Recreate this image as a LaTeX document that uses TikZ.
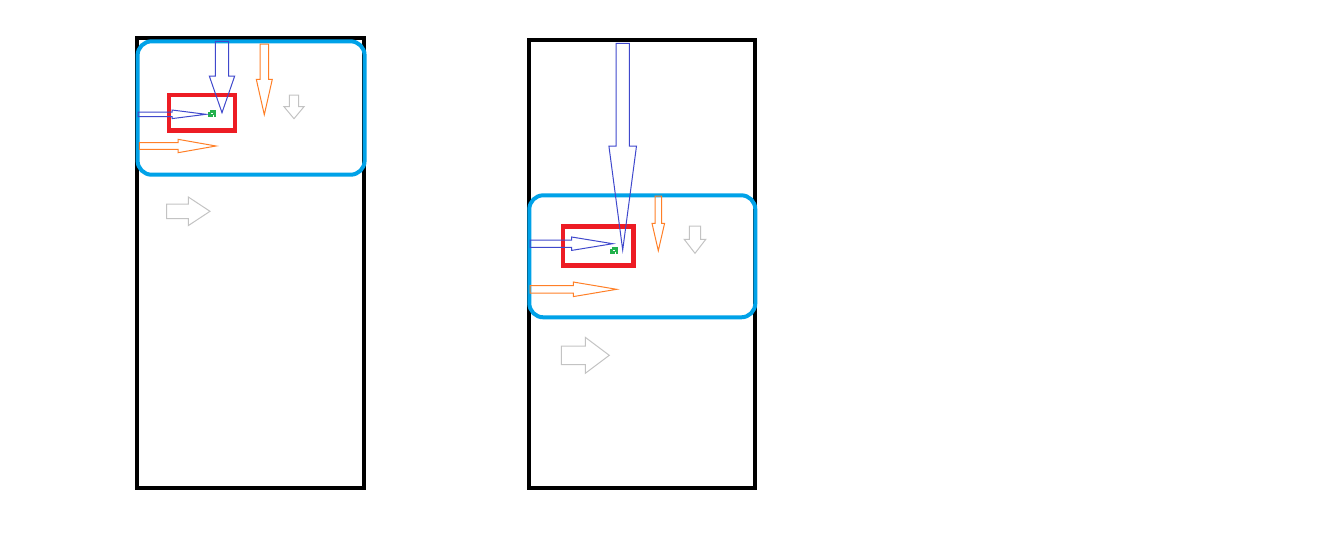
\documentclass[tikz,border=0pt]{standalone}
\usepackage{tikz}
\definecolor{frame}{HTML}{000000}
\definecolor{viewbd}{HTML}{00A2E8}
\definecolor{pickbd}{HTML}{ED1C24}
\definecolor{rayblue}{HTML}{3F48CC}
\definecolor{rayorange}{HTML}{FF7F27}
\definecolor{raygray}{HTML}{C3C3C3}
\definecolor{spritegreen}{HTML}{22B14C}
\tikzset{
  panel/.style={draw=frame,line width=4pt},
  viewport/.style={draw=viewbd,line width=4pt,rounded corners=14pt},
  pickbox/.style={draw=pickbd,line width=4.5pt},
  arrowblue/.style={draw=rayblue,line width=1pt,line join=miter},
  arroworange/.style={draw=rayorange,line width=1pt,line join=miter},
  arrowgray/.style={draw=raygray,line width=1pt,line join=miter},
}
% block arrow pointing down: style, x centre, top, shaft half, head start, head half, tip
\newcommand{\darr}[7]{%
  \draw[#1] (#2-#4,#3) -- (#2+#4,#3) -- (#2+#4,#5) -- (#2+#6,#5)
    -- (#2,#7) -- (#2-#6,#5) -- (#2-#4,#5) -- cycle;}
% block arrow pointing right: style, y centre, left, shaft half, head start, head half, tip
\newcommand{\rarr}[7]{%
  \draw[#1] (#3,#2-#4) -- (#5,#2-#4) -- (#5,#2-#6)
    -- (#7,#2) -- (#5,#2+#6) -- (#5,#2+#4) -- (#3,#2+#4) -- cycle;}
% little green sprite
\newcommand{\sprite}[2]{%
  \fill[spritegreen] (#1-4,#2-3) rectangle (#1+4,#2+4);
  \fill[white] (#1-4,#2-3) rectangle (#1-2,#2-1);
  \fill[white] (#1+1,#2+2) rectangle (#1+2,#2+4);
  \fill[white] (#1-1,#2) rectangle (#1+1,#2+1);}

\begin{document}
\begin{tikzpicture}[x=1pt,y=-1pt]
  \useasboundingbox (0,0) rectangle (1341,539);
  % left screen
  \draw[panel] (136.5,38) rectangle (364.3,488);
  \draw[viewport] (137.6,41.3) rectangle (364.6,174.7);
  \draw[pickbox] (169,95) rectangle (235,130.3);
  \sprite{212}{113}
  \rarr{arrowblue}{114.3}{138}{2.3}{172}{4.3}{206}
  \darr{arrowblue}{222}{41.3}{6.7}{76}{12.7}{112.7}
  \darr{arroworange}{264.3}{44}{4.2}{79.3}{8}{114.7}
  \darr{arrowgray}{294}{95}{4.7}{106.7}{10}{118.7}
  \rarr{arroworange}{146}{139.3}{3.3}{178}{6.7}{216}
  \rarr{arrowgray}{211.3}{166.7}{7.3}{188.3}{14.3}{210}
  % right screen
  \draw[panel] (528.5,40) rectangle (755,488);
  \draw[viewport] (529.3,195.3) rectangle (755.3,317.3);
  \draw[pickbox] (563,226.3) rectangle (633.7,265.7);
  \sprite{613.5}{250}
  \rarr{arrowblue}{243.7}{530}{3.7}{571.7}{6.7}{612.7}
  \darr{arrowblue}{622.7}{43.3}{6.7}{146}{13.8}{250}
  \darr{arroworange}{658.3}{196}{3.3}{223.3}{6.3}{250.7}
  \darr{arrowgray}{695}{226}{5.7}{239.3}{10.8}{253.3}
  \rarr{arroworange}{289.3}{530}{3.7}{573.3}{7.3}{616.7}
  \rarr{arrowgray}{355.3}{561.3}{9.2}{585.3}{18}{609.3}
\end{tikzpicture}
\end{document}
